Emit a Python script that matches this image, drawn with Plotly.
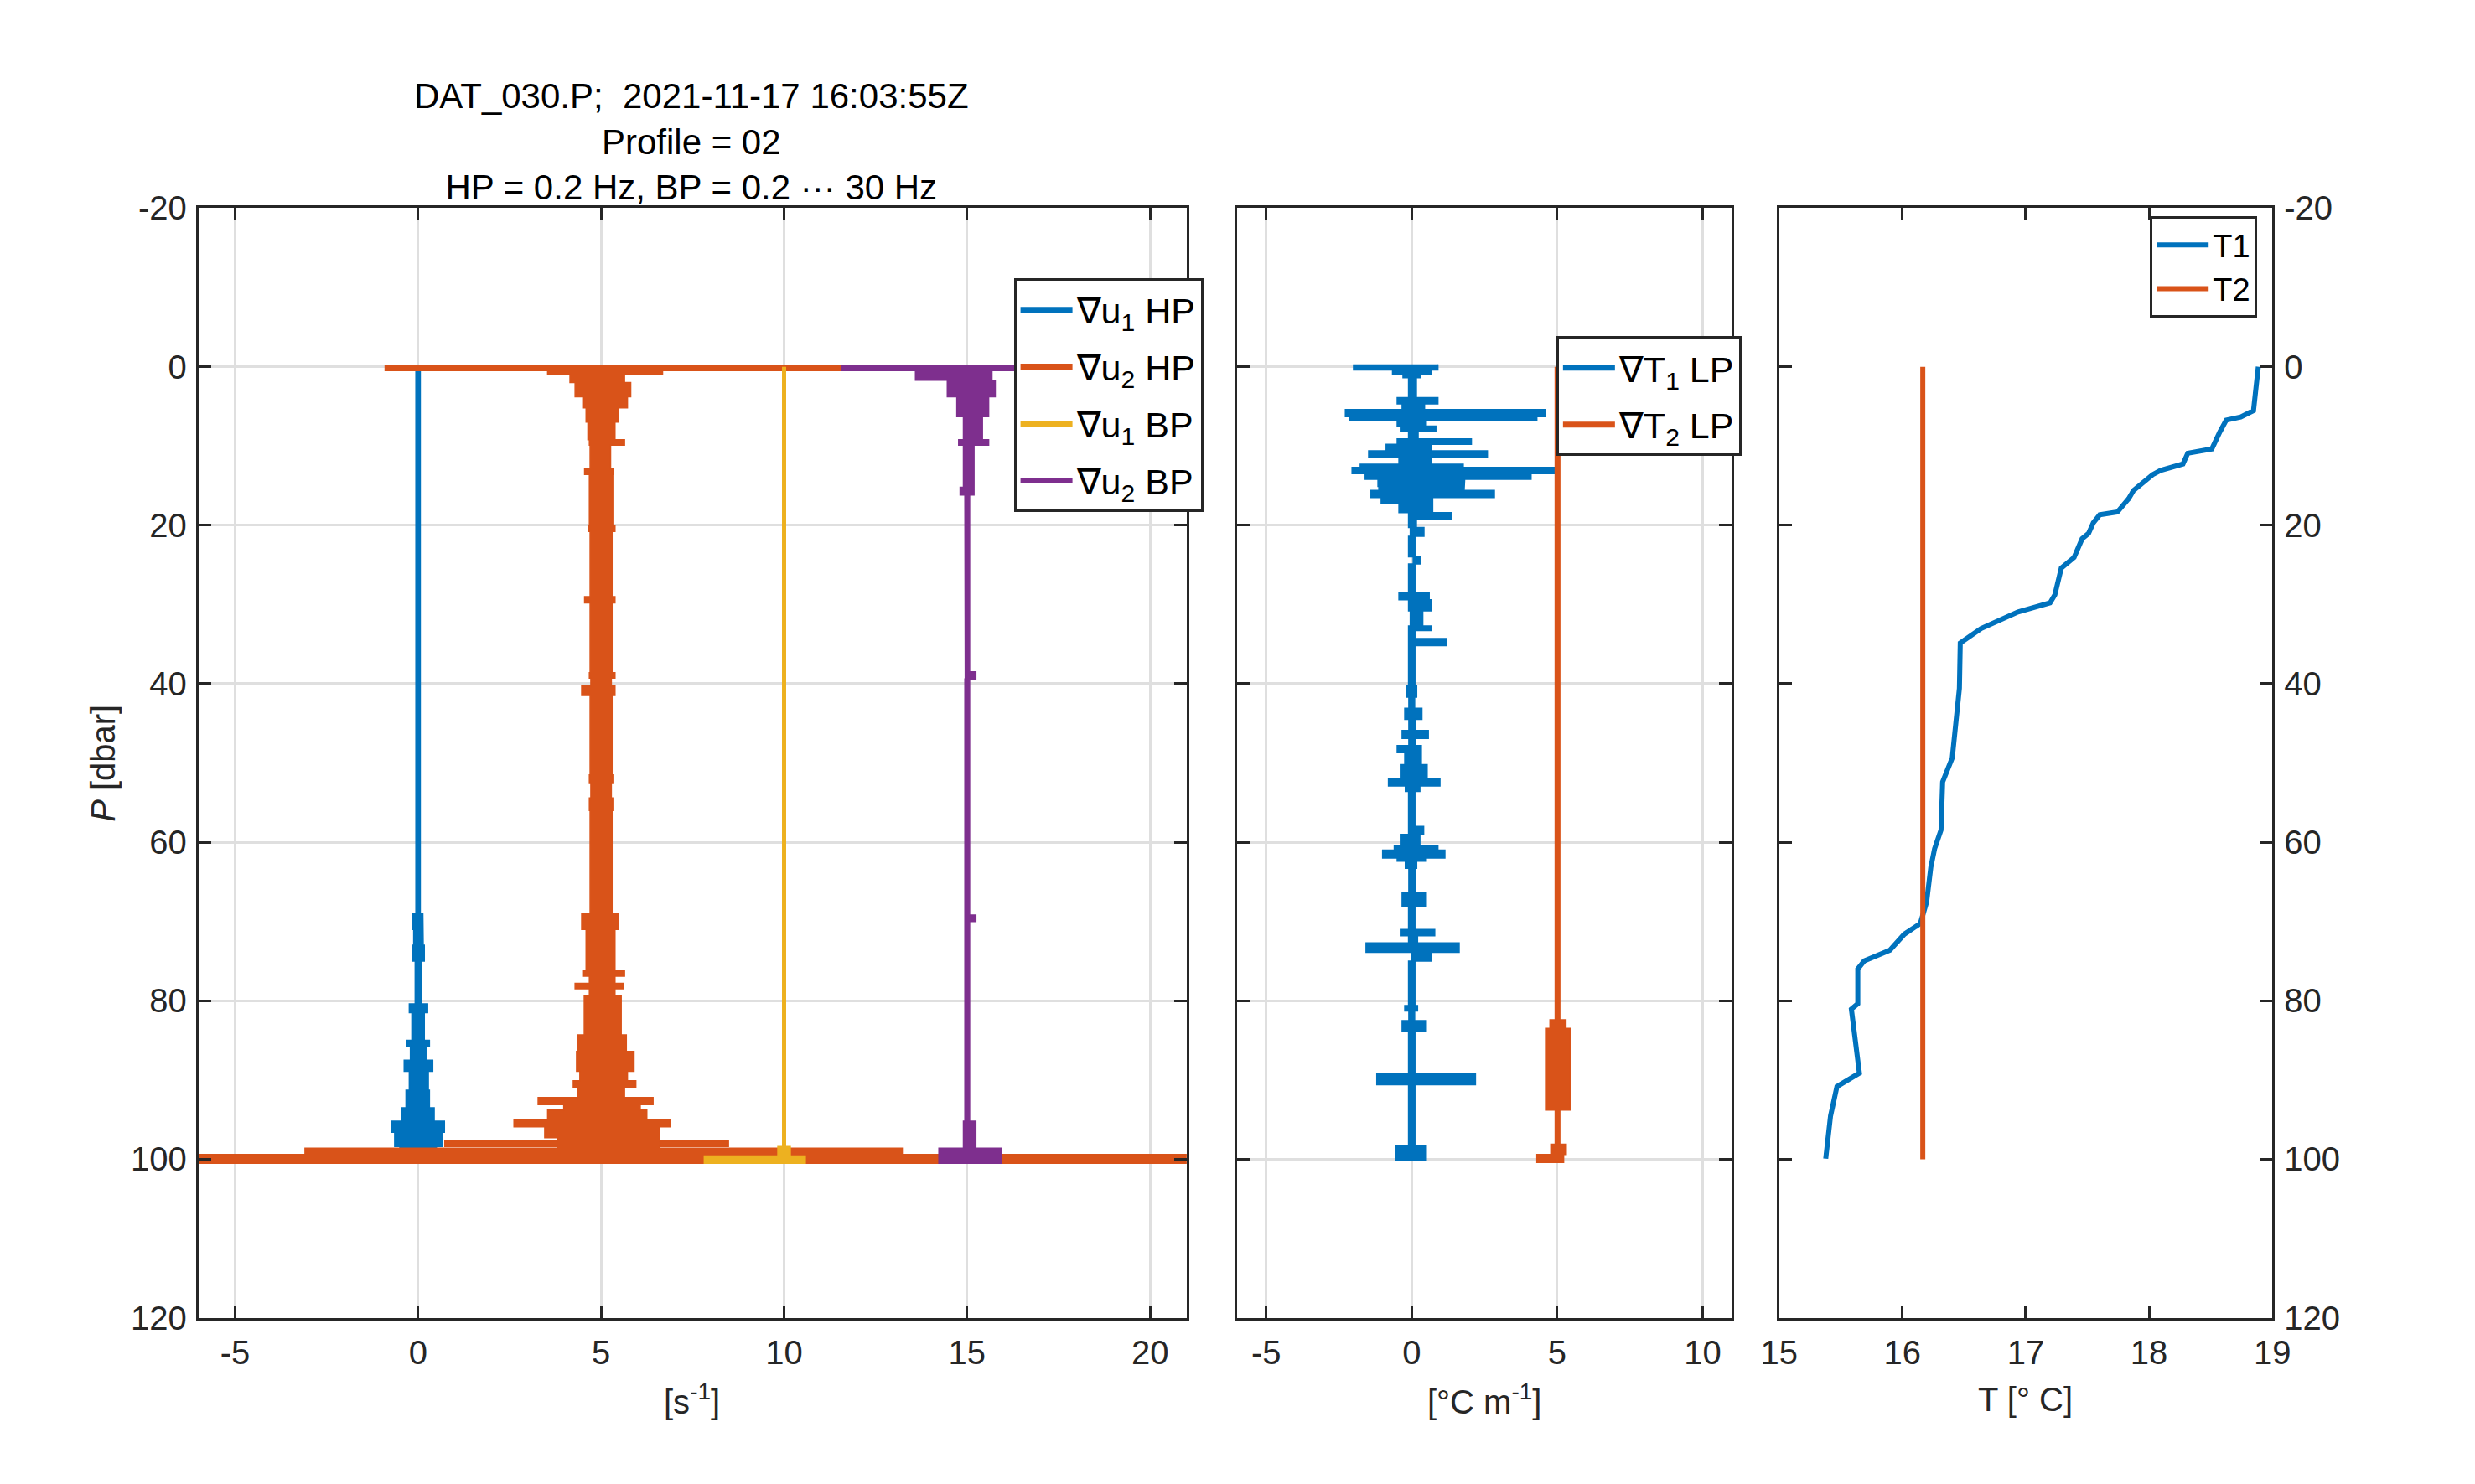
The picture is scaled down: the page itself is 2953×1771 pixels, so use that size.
import plotly.graph_objects as go

# shear probe profiles, offsets 0 / 5 / 10 / 15 (bins: edges -> lo/hi of signal)
du1_hp_P = [0, 69, 71, 73, 75, 80.4, 81.5, 85, 85.7, 87.5, 88.9, 91.3, 93.5, 95.2, 96.6, 98.4, 100.4]
du1_hp_lo = [-0.06, -0.14, -0.12, -0.16, -0.08, -0.24, -0.17, -0.30, -0.21, -0.38, -0.24, -0.33, -0.44, -0.73, -0.64, -0.50]
du1_hp_hi = [0.06, 0.13, 0.14, 0.17, 0.10, 0.26, 0.17, 0.31, 0.23, 0.40, 0.28, 0.31, 0.44, 0.72, 0.66, 0.50]

du2_hp_P = [-0.2, 0.5, 1.0, 2.0, 3.8, 5.2, 7.0, 9.2, 9.9, 12.9, 13.6, 20.0, 20.8, 29.0, 29.8, 38.6,
            39.3, 40.3, 41.5, 51.5, 52.6, 54.4, 56.0, 69.0, 71.0, 76.2, 76.9, 77.8, 78.5, 79.4, 84.3,
            86.4, 88.9, 90.1, 91.0, 92.2, 93.1, 93.8, 95.0, 95.9, 97.3, 97.7, 98.4, 98.6, 99.4, 100.5]
du2_hp_lo = [-5.9, -1.46, -0.85, -0.71, -0.50, -0.41, -0.36, -0.32, -0.30, -0.45, -0.32, -0.34, -0.30,
             -0.45, -0.30, -0.32, -0.28, -0.53, -0.30, -0.32, -0.28, -0.32, -0.30, -0.53, -0.41, -0.50,
             -0.32, -0.71, -0.32, -0.46, -0.64, -0.67, -0.58, -0.76, -0.64, -1.72, -1.02, -1.46, -2.38,
             -1.54, -1.20, -4.27, -1.20, -8.09, -11.5]
du2_hp_hi = [6.6, 1.68, 0.64, 0.81, 0.72, 0.46, 0.38, 0.64, 0.26, 0.34, 0.32, 0.38, 0.30, 0.38, 0.30,
             0.38, 0.28, 0.38, 0.30, 0.32, 0.28, 0.32, 0.30, 0.46, 0.38, 0.64, 0.38, 0.60, 0.38, 0.55,
             0.69, 0.90, 0.72, 0.95, 0.64, 1.42, 1.07, 1.25, 1.89, 1.60, 1.60, 3.48, 1.60, 8.23, 16.5]

du1_bp_P = [0, 98.4, 99.6, 100.5]
du1_bp_lo = [-0.04, -0.17, -2.18]
du1_bp_hi = [0.04, 0.17, 0.58]

du2_bp_P = [-0.2, 0.5, 1.7, 3.8, 6.3, 9.2, 9.9, 15.2, 16.2, 38.5, 39.4, 69.2, 70.0, 95.2, 98.6, 100.5]
du2_bp_lo = [-3.42, -1.41, -0.54, -0.28, -0.10, -0.23, -0.10, -0.19, -0.06, -0.05, -0.06, -0.07, -0.06, -0.10, -0.77]
du2_bp_hi = [2.0, 0.68, 0.77, 0.59, 0.42, 0.59, 0.19, 0.19, 0.07, 0.24, 0.07, 0.24, 0.07, 0.24, 0.94]

# thermistor gradients, offsets 0 / 5
dT1_P = [-0.3, 0.4, 0.9, 1.4, 3.9, 4.7, 5.4, 6.3, 6.8, 7.5, 8.2, 9.1, 9.8, 10.6, 11.4, 12.3, 12.7,
         13.5, 14.2, 15.1, 15.6, 16.5, 17.3, 18.4, 19.3, 20.3, 21.4, 24.0, 24.9, 28.5, 29.4, 30.8,
         32.7, 33.3, 34.3, 35.2, 40.3, 41.7, 43.1, 44.5, 45.9, 46.9, 47.8, 48.7, 50.2, 52.0, 52.9,
         53.6, 58.0, 59.0, 60.4, 61.0, 62.0, 62.4, 63.3, 66.4, 68.1, 71.0, 71.8, 72.7, 73.9, 75.0,
         80.6, 81.3, 82.5, 83.8, 89.2, 90.6, 98.3, 100.2]
dT1_lo = [-2.0, -0.66, -0.3, -0.11, -0.5, -0.33, -2.28, -2.15, -0.5, -0.39, -0.11, -0.5, -0.88, -1.48,
          -0.44, -1.77, -2.05, -1.6, -1.16, -1.13, -1.4, -1.05, -0.44, -0.11, -0.11, -0.05, -0.11, 0.05,
          -0.11, -0.44, -0.11, -0.05, -0.11, -0.11, -0.11, -0.11, -0.17, -0.1, -0.24, -0.1, -0.33, -0.1,
          -0.5, -0.24, -0.39, -0.8, -0.22, -0.11, -0.11, -0.39, -0.6, -1.0, -0.5, -0.22, -0.1, -0.33,
          -0.11, -0.39, -0.11, -1.57, 0.0, -0.11, -0.24, -0.1, -0.33, -0.11, -1.2, -0.11, -0.55]
dT1_hi = [0.9, 0.66, 0.3, 0.16, 0.9, 0.44, 4.6, 4.3, 0.5, 0.83, 0.22, 2.05, 0.66, 2.6, 0.66, 1.77,
          4.9, 4.1, 1.82, 1.8, 2.84, 0.72, 0.72, 1.37, 0.16, 0.42, 0.13, 0.3, 0.13, 0.6, 0.68, 0.38,
          0.66, 0.13, 1.2, 0.11, 0.17, 0.1, 0.35, 0.12, 0.57, 0.12, 0.33, 0.33, 0.53, 0.97, 0.28, 0.11,
          0.41, 0.28, 0.9, 1.14, 0.5, 0.17, 0.12, 0.5, 0.11, 0.79, 0.2, 1.63, 0.66, 0.11, 0.2, 0.1, 0.5,
          0.11, 2.19, 0.11, 0.5]

dT2_P = [0, 82.4, 83.5, 93.8, 98.1, 99.4, 100.4]
dT2_lo = [-0.07, -0.25, -0.40, -0.07, -0.22, -0.70]
dT2_hi = [0.09, 0.30, 0.45, 0.09, 0.31, 0.22]

# temperature
t1_P = [0, 4.86, 5.53, 6.34, 6.74, 8.23, 9.58, 10.38, 10.92, 12.27, 13.08, 13.62, 15.64, 16.66,
        18.34, 18.68, 19.69, 21.04, 21.71, 24.07, 25.42, 28.79, 29.80, 30.95, 33.04, 34.86, 40.59,
        45.31, 49.36, 52.39, 58.46, 60.82, 63.18, 67.57, 70.26, 71.61, 73.63, 74.98, 75.99, 80.38,
        81.05, 89.14, 90.83, 94.54, 99.93]
t1_T = [18.886, 18.860, 18.847, 18.743, 18.626, 18.574, 18.535, 18.509, 18.314, 18.275, 18.094,
        18.029, 17.873, 17.834, 17.743, 17.600, 17.548, 17.509, 17.457, 17.392, 17.288, 17.236,
        17.197, 16.937, 16.638, 16.469, 16.462, 16.430, 16.404, 16.326, 16.313, 16.261, 16.230,
        16.196, 16.145, 16.015, 15.898, 15.690, 15.638, 15.638, 15.586, 15.651, 15.469, 15.417, 15.378]
t2_P = [0, 100]
t2_T = [16.165, 16.165]

y_ticks = [-20, 0, 20, 40, 60, 80, 100, 120]
x1_ticks = [-5, 0, 5, 10, 15, 20]
x2_ticks = [-5, 0, 5, 10]
x3_ticks = [15, 16, 17, 18, 19]

BLUE, ORANGE, YELLOW, PURPLE = "#0072BD", "#D95319", "#EDB120", "#7E2F8E"
INK = "#262626"
FONT = "Liberation Sans"


def envelope(edges, lo, hi, off):
    # blocky outline: right side down, left side back up
    xs, ys = [], []
    for i in range(len(lo)):
        xs += [off + hi[i], off + hi[i]]
        ys += [edges[i], edges[i + 1]]
    for i in reversed(range(len(lo))):
        xs += [off + lo[i], off + lo[i]]
        ys += [edges[i + 1], edges[i]]
    return xs, ys


fig = go.Figure()

panel1 = [
    (du1_hp_P, du1_hp_lo, du1_hp_hi, 0, BLUE, "∇u<sub>1</sub> HP"),
    (du2_hp_P, du2_hp_lo, du2_hp_hi, 5, ORANGE, "∇u<sub>2</sub> HP"),
    (du1_bp_P, du1_bp_lo, du1_bp_hi, 10, YELLOW, "∇u<sub>1</sub> BP"),
    (du2_bp_P, du2_bp_lo, du2_bp_hi, 15, PURPLE, "∇u<sub>2</sub> BP"),
]
for P, lo, hi, off, c, name in panel1:
    xs, ys = envelope(P, lo, hi, off)
    fig.add_trace(go.Scatter(x=xs, y=ys, mode="lines", fill="toself", fillcolor=c,
                             line=dict(color=c, width=1.5), showlegend=False,
                             xaxis="x", yaxis="y", hoverinfo="skip"))
for P, lo, hi, off, c, name in panel1:
    fig.add_trace(go.Scatter(x=[None], y=[None], mode="lines", name=name,
                             line=dict(color=c, width=7), legend="legend",
                             legendgroup=name, xaxis="x", yaxis="y"))

panel2 = [
    (dT1_P, dT1_lo, dT1_hi, 0, BLUE, "∇T<sub>1</sub> LP"),
    (dT2_P, dT2_lo, dT2_hi, 5, ORANGE, "∇T<sub>2</sub> LP"),
]
for P, lo, hi, off, c, name in panel2:
    xs, ys = envelope(P, lo, hi, off)
    fig.add_trace(go.Scatter(x=xs, y=ys, mode="lines", fill="toself", fillcolor=c,
                             line=dict(color=c, width=1.5), showlegend=False,
                             xaxis="x2", yaxis="y2", hoverinfo="skip"))
for P, lo, hi, off, c, name in panel2:
    fig.add_trace(go.Scatter(x=[None], y=[None], mode="lines", name=name,
                             line=dict(color=c, width=7), legend="legend2",
                             legendgroup=name, xaxis="x2", yaxis="y2"))

fig.add_trace(go.Scatter(x=t1_T, y=t1_P, mode="lines", name="T1", line=dict(color=BLUE, width=6),
                         legend="legend3", xaxis="x3", yaxis="y3"))
fig.add_trace(go.Scatter(x=t2_T, y=t2_P, mode="lines", name="T2", line=dict(color=ORANGE, width=6),
                         legend="legend3", xaxis="x3", yaxis="y3"))

ax = dict(showline=True, linecolor=INK, linewidth=3, mirror="allticks", ticks="inside",
          ticklen=15, tickwidth=3, tickcolor=INK, zeroline=False,
          tickfont=dict(family=FONT, size=40, color=INK))
grid = dict(showgrid=True, gridcolor="#dfdfdf", gridwidth=3)
nogrid = dict(showgrid=False)
ydom = [0.1068, 0.8735]
yt = dict(tickvals=y_ticks, ticktext=[str(v) for v in y_ticks], range=[120, -20])
leg = dict(xanchor="left", yanchor="top", bgcolor="white", bordercolor=INK, borderwidth=3,
           itemwidth=62, font=dict(family=FONT, size=43, color="black"))

fig.update_layout(
    width=2953, height=1771,
    margin=dict(l=0, r=0, t=0, b=0),
    paper_bgcolor="white", plot_bgcolor="white",
    font=dict(family=FONT, color=INK),
    xaxis=dict(**ax, **grid, domain=[0.0711, 0.4764], range=[-6, 21], anchor="y",
               tickvals=x1_ticks, ticktext=[str(v) for v in x1_ticks], ticklabelstandoff=4),
    yaxis=dict(**ax, **grid, **yt, domain=ydom, anchor="x", ticklabelstandoff=3),
    xaxis2=dict(**ax, **grid, domain=[0.4971, 0.7000], range=[-6, 11], anchor="y2",
                tickvals=x2_ticks, ticktext=[str(v) for v in x2_ticks], ticklabelstandoff=4),
    yaxis2=dict(**ax, **grid, **yt, domain=ydom, anchor="x2", showticklabels=False),
    xaxis3=dict(**ax, **nogrid, domain=[0.7194, 0.9217], range=[15, 19], anchor="y3",
                tickvals=x3_ticks, ticktext=[str(v) for v in x3_ticks], ticklabelstandoff=4),
    yaxis3=dict(**ax, **nogrid, **yt, domain=ydom, anchor="x3", side="right", ticklabelstandoff=3),
    legend=dict(**leg, x=0.4055, y=0.825, tracegroupgap=9),
    legend2=dict(**leg, x=0.6280, y=0.785, tracegroupgap=9),
    legend3=dict(xanchor="left", yanchor="top", bgcolor="white", bordercolor=INK, borderwidth=3,
                 itemwidth=62, font=dict(family=FONT, size=38, color="black"), x=0.8715, y=0.868),
    showlegend=True,
)

annotations = [
    dict(text="DAT_030.P;  2021-11-17 16:03:55Z<br>Profile = 02<br>HP = 0.2 Hz, BP = 0.2 ··· 30 Hz",
         x=0.2734, y=0.9193, font=dict(size=42, color="black")),
    dict(text="[s<sup>-1</sup>]", x=0.2734, y=0.0505, font=dict(size=40, color=INK)),
    dict(text="[°C m<sup>-1</sup>]", x=0.5985, y=0.0505, font=dict(size=40, color=INK)),
    dict(text="T [° C]", x=0.8205, y=0.0505, font=dict(size=40, color=INK)),
    dict(text="<i>P</i> [dbar]", x=0.0320, y=0.4900, textangle=-90, font=dict(size=40, color=INK)),
]
for a in annotations:
    fig.add_annotation(xref="paper", yref="paper", showarrow=False, xanchor="center",
                       yanchor="middle", font_family=FONT, **a)

fig.write_html("out.html")
